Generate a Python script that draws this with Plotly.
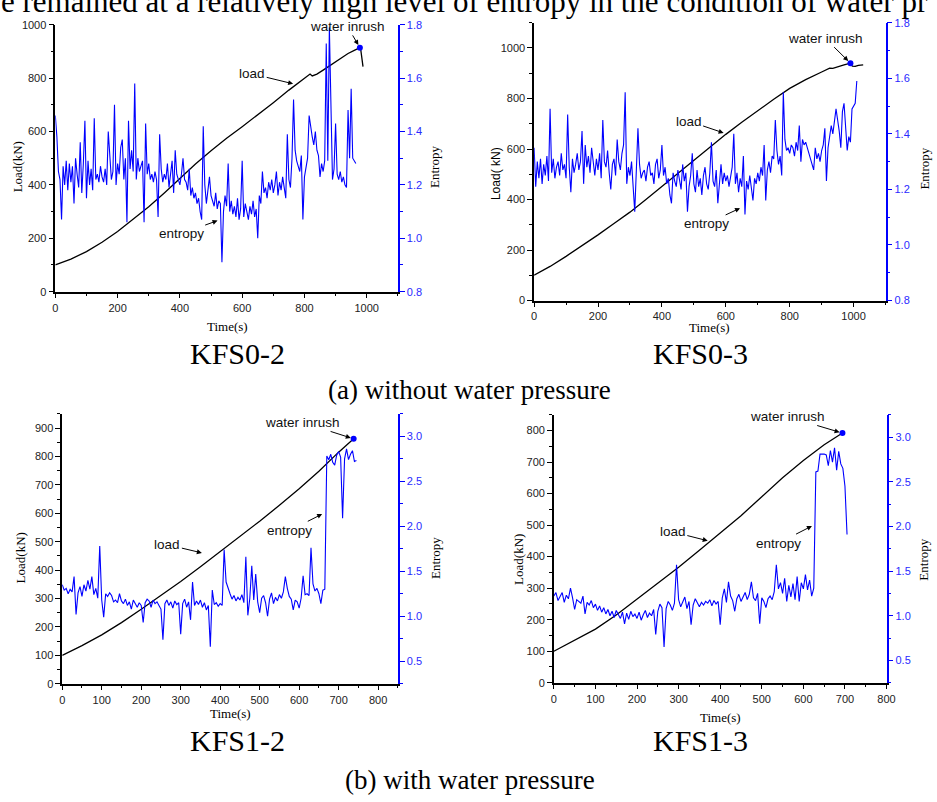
import plotly.graph_objects as go

W, H = 937, 802

# ---------------- data ----------------
# KFS0-2 (without water pressure)
kfs02_entropy_t0, kfs02_entropy_dt = 0, 5
kfs02_entropy = [
    1.46, 1.38, 1.25, 1.22, 1.07, 1.27, 1.20, 1.29, 1.18, 1.28,
    1.21, 1.27, 1.13, 1.30, 1.24, 1.19, 1.36, 1.17, 1.28, 1.44,
    1.15, 1.29, 1.20, 1.26, 1.18, 1.45, 1.22, 1.24, 1.21, 1.27,
    1.23, 1.21, 1.26, 1.20, 1.40, 1.29, 1.22, 1.25, 1.50, 1.20,
    1.28, 1.24, 1.34, 1.37, 1.22, 1.30, 1.06, 1.44, 1.26, 1.33,
    1.25, 1.58, 1.22, 1.30, 1.25, 1.27, 1.29, 1.06, 1.43, 1.24,
    1.28, 1.22, 1.24, 1.21, 1.25, 1.22, 1.08, 1.39, 1.26, 1.21,
    1.24, 1.22, 1.28, 1.19, 1.25, 1.29, 1.17, 1.33, 1.24, 1.22,
    1.20, 1.24, 1.30, 1.22, 1.21, 1.18, 1.26, 1.16, 1.19, 1.15,
    1.17, 1.13, 1.15, 1.10, 1.07, 1.42, 1.20, 1.13, 1.18, 1.23,
    1.16, 1.14, 1.12, 1.17, 1.11, 1.14, 1.13, 0.91, 1.10, 1.16,
    1.12, 1.28, 1.10, 1.14, 1.09, 1.12, 1.08, 1.15, 1.07, 1.11,
    1.29, 1.08, 1.13, 1.10, 1.07, 1.12, 1.09, 1.14, 1.08, 1.11,
    1.00, 1.16, 1.13, 1.25, 1.17, 1.19, 1.15, 1.21, 1.18, 1.22,
    1.17, 1.20, 1.25, 1.16, 1.21, 1.18, 1.23, 1.19, 1.15, 1.39,
    1.22, 1.19, 1.30, 1.52, 1.33, 1.29, 1.27, 1.25, 1.31, 1.07,
    1.23, 1.26, 1.30, 1.46, 1.41, 1.38, 1.35, 1.40, 1.33, 1.31,
    1.23, 1.28, 1.25, 1.29, 1.73, 1.29, 1.79, 1.45, 1.22, 1.26,
    1.43, 1.24, 1.22, 1.25, 1.21, 1.23, 1.20, 1.19, 1.48, 1.30,
    1.56, 1.30, 1.29, 1.28,
]
kfs02_load_t = [0, 50, 100, 150, 200, 250, 300, 350, 400, 450, 500, 550, 600, 650,
                700, 750, 775, 800, 812, 818, 825, 840, 860, 880, 900, 920, 940, 960,
                978, 981, 984, 988]
kfs02_load = [100, 122, 150, 185, 225, 270, 318, 370, 425, 478, 528, 575, 618, 662,
              708, 755, 778, 800, 812, 815, 808, 815, 830, 845, 862, 878, 892, 904,
              914, 905, 870, 843]
kfs02_inrush = (978, 914)

# KFS0-3 (without water pressure)
kfs03_entropy_t0, kfs03_entropy_dt = 0, 5
kfs03_entropy = [
    1.35, 1.21, 1.30, 1.24, 1.31, 1.22, 1.29, 1.25, 1.32, 1.23,
    1.49, 1.26, 1.31, 1.24, 1.28, 1.30, 1.25, 1.33, 1.27, 1.29,
    1.24, 1.47, 1.28, 1.19, 1.31, 1.26, 1.29, 1.33, 1.27, 1.30,
    1.41, 1.22, 1.36, 1.28, 1.32, 1.26, 1.35, 1.29, 1.25, 1.31,
    1.27, 1.33, 1.24, 1.45, 1.30, 1.28, 1.34, 1.26, 1.20, 1.29,
    1.31, 1.25, 1.38, 1.30, 1.27, 1.33, 1.36, 1.55, 1.22, 1.28,
    1.25, 1.30, 1.21, 1.12, 1.27, 1.42, 1.29, 1.24, 1.26, 1.27,
    1.23, 1.28, 1.30, 1.25, 1.26, 1.22, 1.29, 1.31, 1.24, 1.27,
    1.36, 1.25, 1.28, 1.22, 1.24, 1.18, 1.15, 1.26, 1.23, 1.21,
    1.27, 1.24, 1.20, 1.29, 1.23, 1.26, 1.12, 1.21, 1.25, 1.33,
    1.22, 1.19, 1.27, 1.21, 1.24, 1.18, 1.25, 1.28, 1.22, 1.20,
    1.26, 1.37, 1.23, 1.21, 1.27, 1.15, 1.24, 1.29, 1.22, 1.26,
    1.23, 1.25, 1.21, 1.24, 1.28, 1.40, 1.22, 1.26, 1.19, 1.24,
    1.21, 1.32, 1.11, 1.23, 1.20, 1.25, 1.21, 1.16, 1.24, 1.22,
    1.26, 1.23, 1.28, 1.25, 1.36, 1.16, 1.27, 1.30, 1.26, 1.32,
    1.31, 1.45, 1.34, 1.29, 1.32, 1.25, 1.55, 1.38, 1.34, 1.35,
    1.33, 1.36, 1.35, 1.32, 1.37, 1.34, 1.43, 1.30, 1.38, 1.36,
    1.37, 1.35, 1.33, 1.31, 1.29, 1.27, 1.35, 1.31, 1.33, 1.30,
    1.34, 1.36, 1.42, 1.23, 1.35, 1.39, 1.43, 1.40, 1.44, 1.49,
    1.45, 1.41, 1.35, 1.48, 1.51, 1.40, 1.34, 1.39, 1.37, 1.49,
    1.50, 1.51, 1.59,
]
kfs03_load_t = [0, 50, 100, 150, 200, 250, 300, 350, 400, 450, 500, 550, 600, 650,
                700, 750, 800, 850, 900, 925, 935, 950, 970, 990, 996, 1005, 1015, 1030]
kfs03_load = [100, 135, 175, 217, 260, 305, 350, 400, 452, 504, 555, 607, 658, 706,
              752, 797, 840, 875, 905, 920, 919, 926, 933, 940, 928, 927, 931, 933]
kfs03_inrush = (990, 940)

# KFS1-2 (with water pressure)
kfs12_entropy_t0, kfs12_entropy_dt = 0, 5
kfs12_entropy = [
    1.35, 1.29, 1.31, 1.25, 1.30, 1.27, 1.44, 1.02, 1.26, 1.33,
    1.22, 1.35, 1.28, 1.40, 1.30, 1.44, 1.24, 1.31, 1.20, 1.78,
    1.18, 0.99, 1.25, 1.22, 1.26, 1.23, 1.16, 1.18, 1.15, 1.25,
    1.17, 1.14, 1.19, 1.12, 1.16, 1.08, 1.18, 1.13, 1.10, 1.15,
    1.12, 0.93, 1.15, 1.19, 1.17, 1.10, 1.18, 1.14, 1.16, 1.12,
    1.08, 0.74, 1.14, 1.18, 1.12, 1.16, 1.09, 1.17, 1.13, 1.15,
    0.80, 1.14, 1.19, 1.10, 1.16, 0.96, 1.38, 1.12, 1.17, 1.13,
    1.18, 1.10, 1.15, 1.07, 1.12, 0.66, 1.29, 1.13, 1.15, 1.11,
    1.14, 1.12, 1.74, 1.38, 1.30, 1.25, 1.19, 1.23, 1.17, 1.21,
    1.18, 1.24, 1.15, 1.66, 1.01, 1.20, 1.56, 1.18, 1.47, 1.16,
    1.04, 1.20, 1.23, 1.15, 1.00, 1.19, 1.26, 1.14, 1.21, 1.17,
    1.24, 1.20, 1.27, 1.44, 1.31, 1.22, 1.19, 1.07, 1.18, 1.16,
    1.09, 1.20, 1.45, 1.24, 1.25, 1.23, 1.76, 1.36, 1.28, 1.31,
    1.25, 1.14, 1.29, 1.30, 2.78, 2.74, 2.80, 2.71, 2.68, 2.79,
    2.83, 2.77, 2.09, 2.75, 2.86, 2.74, 2.80, 2.84, 2.72, 2.73,
]
kfs12_load_t = [0, 50, 100, 150, 200, 250, 300, 350, 400, 450, 500, 550, 600, 650, 700, 738]
kfs12_load = [100, 134, 172, 215, 262, 310, 360, 412, 465, 518, 572, 628, 686, 748, 815, 862]
kfs12_inrush = (738, 862)

# KFS1-3 (with water pressure)
kfs13_entropy_t0, kfs13_entropy_dt = 0, 5
kfs13_entropy = [
    1.22, 1.26, 1.17, 1.21, 1.26, 1.15, 1.23, 1.19, 1.31, 1.20,
    1.07, 1.18, 1.16, 1.14, 1.22, 1.02, 1.15, 1.12, 1.17, 1.09,
    1.13, 1.06, 1.11, 1.04, 1.09, 1.02, 1.07, 1.00, 1.05, 0.98,
    1.06, 1.01, 0.97, 1.04, 0.91, 1.03, 0.96, 1.05, 0.99, 1.02,
    0.97, 1.04, 0.95, 1.01, 1.06, 0.98, 1.03, 1.00, 1.07, 0.79,
    1.05, 1.13, 1.09, 0.65, 1.08, 1.16, 1.12, 1.06, 1.14, 1.57,
    1.18, 1.10, 1.15, 1.21, 1.08, 1.16, 0.90, 1.12, 1.19, 1.14,
    1.10, 1.15, 1.12, 1.16, 1.14, 1.18, 1.11, 1.17, 1.13, 1.16,
    0.90, 1.20, 1.30, 1.15, 1.38, 1.22, 1.17, 1.05, 1.19, 1.24,
    1.16, 1.21, 1.26, 1.18, 1.24, 1.38, 1.20, 1.17, 1.25, 0.91,
    1.20, 1.16, 1.09, 1.19, 1.22, 1.18, 1.27, 1.57, 1.30, 1.37,
    1.25, 1.42, 1.16, 1.34, 1.21, 1.36, 1.18, 1.44, 1.16, 1.37,
    1.30, 1.46, 1.29, 1.40, 1.22, 1.31, 2.61, 2.62, 2.81, 2.81,
    2.81, 2.80, 2.68, 2.85, 2.72, 2.88, 2.63, 2.84, 2.70, 2.65,
    2.45, 1.91,
]
kfs13_load_t = [0, 50, 100, 150, 200, 250, 300, 350, 400, 450, 500, 550, 600, 650, 694]
kfs13_load = [100, 134, 170, 215, 265, 315, 366, 420, 474, 530, 590, 650, 705, 755, 792]
kfs13_inrush = (694, 792)

panel_names = ["KFS0-2", "KFS0-3", "KFS1-2", "KFS1-3"]
group_captions = ["(a) without water pressure", "(b) with water pressure"]
top_text = "e remained at a relatively high level of entropy in the condition of water pr"

# ---------------- helpers ----------------
def px(x):
    return x / W

def py(y):
    return 1 - y / H

def times(t0, dt, vals):
    return [t0 + dt * i for i in range(len(vals))]

BLUE = "#0000ff"
BLUE_TXT = "#2a2aff"
SANS = "Liberation Sans, Arial, sans-serif"
SERIF = "Liberation Serif, Times New Roman, serif"

panels = [
    dict(entropy=kfs02_entropy, et0=kfs02_entropy_t0, edt=kfs02_entropy_dt,
         lt=kfs02_load_t, lv=kfs02_load, inrush=kfs02_inrush,
         xd=(53, 400), yd=(19, 290), xr=(0, 1100), xdt=200, yr=(0, 1000), ydt=200,
         y2r=(0.8, 1.8), y2dt=0.2),
    dict(entropy=kfs03_entropy, et0=kfs03_entropy_t0, edt=kfs03_entropy_dt,
         lt=kfs03_load_t, lv=kfs03_load, inrush=kfs03_inrush,
         xd=(538, 894), yd=(17, 299), xr=(0, 1100), xdt=200, yr=(0, 1100), ydt=200,
         y2r=(0.8, 1.8), y2dt=0.2),
    dict(entropy=kfs12_entropy, et0=kfs12_entropy_t0, edt=kfs12_entropy_dt,
         lt=kfs12_load_t, lv=kfs12_load, inrush=kfs12_inrush,
         xd=(60, 400), yd=(414, 688), xr=(0, 850), xdt=100, yr=(0, 950), ydt=100,
         y2r=(0.25, 3.25), y2dt=0.5),
    dict(entropy=kfs13_entropy, et0=kfs13_entropy_t0, edt=kfs13_entropy_dt,
         lt=kfs13_load_t, lv=kfs13_load, inrush=kfs13_inrush,
         xd=(558, 895), yd=(415, 687), xr=(0, 800), xdt=100, yr=(0, 850), ydt=100,
         y2r=(0.25, 3.25), y2dt=0.5),
]

fig = go.Figure()
layout = {}

for i, p in enumerate(panels):
    n = i + 1
    xa = "x" if n == 1 else f"x{n}"
    ya_l_idx = 2 * i + 1
    ya_r_idx = 2 * i + 2
    ya_l = "y" if ya_l_idx == 1 else f"y{ya_l_idx}"
    ya_r = f"y{ya_r_idx}"

    fig.add_trace(go.Scatter(x=p["lt"], y=p["lv"], mode="lines",
                             line=dict(color="black", width=1.3),
                             xaxis=xa, yaxis=ya_l, showlegend=False, hoverinfo="skip"))
    fig.add_trace(go.Scatter(x=[p["inrush"][0]], y=[p["inrush"][1]], mode="markers",
                             marker=dict(color=BLUE, size=6),
                             xaxis=xa, yaxis=ya_l, showlegend=False, hoverinfo="skip"))
    fig.add_trace(go.Scatter(x=times(p["et0"], p["edt"], p["entropy"]), y=p["entropy"],
                             mode="lines", line=dict(color=BLUE, width=1.1),
                             xaxis=xa, yaxis=ya_r, showlegend=False, hoverinfo="skip"))

    xkey = "xaxis" if n == 1 else f"xaxis{n}"
    ylkey = "yaxis" if ya_l_idx == 1 else f"yaxis{ya_l_idx}"
    yrkey = f"yaxis{ya_r_idx}"

    layout[xkey] = dict(
        domain=[px(p["xd"][0]), px(p["xd"][1])], anchor=ya_l, range=list(p["xr"]),
        dtick=p["xdt"], tick0=0, showline=True, linecolor="black", linewidth=1.5,
        ticks="outside", ticklen=5, tickwidth=1.2, tickcolor="black",
        minor=dict(ticks="outside", ticklen=3, dtick=p["xdt"] / 2, tickcolor="black"),
        showgrid=False, zeroline=False,
        tickfont=dict(family=SANS, size=11, color="#222"),
    )
    layout[ylkey] = dict(
        domain=[py(p["yd"][1]), py(p["yd"][0])], anchor=xa, range=list(p["yr"]),
        dtick=p["ydt"], tick0=0, showline=True, linecolor="black", linewidth=1.5,
        ticks="outside", ticklen=5, tickwidth=1.2, tickcolor="black",
        minor=dict(ticks="outside", ticklen=3, dtick=p["ydt"] / 2, tickcolor="black"),
        showgrid=False, zeroline=False,
        tickfont=dict(family=SANS, size=11, color="#222"),
    )
    layout[yrkey] = dict(
        overlaying=ya_l, side="right", anchor=xa, range=list(p["y2r"]),
        dtick=p["y2dt"], tick0=0, showline=True, linecolor=BLUE, linewidth=1.5,
        ticks="outside", ticklen=5, tickwidth=1.2, tickcolor=BLUE,
        minor=dict(ticks="outside", ticklen=3, dtick=p["y2dt"] / 2, tickcolor=BLUE),
        showgrid=False, zeroline=False, tickformat=".1f",
        tickfont=dict(family=SANS, size=11, color=BLUE_TXT),
    )

annotations = []

def txt(x, y, s, size, family=SERIF, angle=0, color="black"):
    annotations.append(dict(x=px(x), y=py(y), xref="paper", yref="paper", text=s,
                            showarrow=False, textangle=angle,
                            font=dict(family=family, size=size, color=color),
                            xanchor="center", yanchor="middle"))

# axis titles
txt(227, 325, "Time(s)", 13)
txt(15, 163, "Load(kN)", 13, angle=-90)
txt(437, 163, "Entropy", 13, angle=-90)
txt(716, 326, "Time(s)", 13)
txt(500, 170, "Load( kN)", 12, family=SANS, angle=-90)
txt(933, 165, "Entropy", 13, angle=-90)
txt(230, 718, "Time(s)", 13)
txt(18, 560, "Load(kN)", 13, angle=-90)
txt(438, 560, "Entropy", 13, angle=-90)
txt(727, 722, "Time(s)", 13)
txt(522, 562, "Load(kN)", 13, angle=-90)
txt(933, 562, "Entropy", 13, angle=-90)

# panel names and captions
txt(238, 353, panel_names[0], 30)
txt(707, 353, panel_names[1], 30)
txt(473, 390, group_captions[0], 27)
txt(238, 746, panel_names[2], 30)
txt(707, 746, panel_names[3], 30)
txt(473, 786, group_captions[1], 27)

# clipped text line at the top of the page
annotations.append(dict(x=0, y=py(-5), xref="paper", yref="paper", text=top_text,
                        showarrow=False, xanchor="left", yanchor="middle", xshift=-4,
                        font=dict(family=SERIF, size=31, color="black")))

# arrows: (panel index, text, head x, head y, axis side, text centre px)
arrow_specs = [
    (0, "water inrush", kfs02_inrush[0], kfs02_inrush[1], "l", (349, 21)),
    (0, "load", 773, 776, "l", (253, 69)),
    (0, "entropy", 530, 1.07, "r", (181, 231)),
    (1, "water inrush", kfs03_inrush[0], kfs03_inrush[1], "l", (833, 33)),
    (1, "load", 602, 660, "l", (695, 117)),
    (1, "entropy", 653, 1.137, "r", (713, 221)),
    (2, "water inrush", kfs12_inrush[0], kfs12_inrush[1], "l", (304, 423)),
    (2, "load", 361, 458, "l", (167, 547)),
    (2, "entropy", 665, 2.15, "r", (291, 532)),
    (3, "water inrush", kfs13_inrush[0], kfs13_inrush[1], "l", (795, 417)),
    (3, "load", 377, 448, "l", (679, 534)),
    (3, "entropy", 627, 2.02, "r", (786, 545)),
]

for (i, s, hx, hy, side, (tx, ty)) in arrow_specs:
    p = panels[i]
    xa = "x" if i == 0 else f"x{i + 1}"
    if side == "l":
        ya = "y" if i == 0 else f"y{2 * i + 1}"
        y0, y1 = p["yr"]
    else:
        ya = f"y{2 * i + 2}"
        y0, y1 = p["y2r"]
    x0, x1 = p["xr"]
    hpx = p["xd"][0] + (hx - x0) / (x1 - x0) * (p["xd"][1] - p["xd"][0])
    hpy = p["yd"][1] - (hy - y0) / (y1 - y0) * (p["yd"][1] - p["yd"][0])
    annotations.append(dict(x=hx, y=hy, xref=xa, yref=ya, text=s, showarrow=True,
                            ax=tx - hpx, ay=ty - hpy, arrowhead=2, arrowsize=1,
                            arrowwidth=1, arrowcolor="black", standoff=3,
                            font=dict(family=SANS, size=13.5, color="#111")))

fig.update_layout(
    width=W, height=H, margin=dict(l=0, r=0, t=0, b=0),
    paper_bgcolor="white", plot_bgcolor="white",
    annotations=annotations, showlegend=False,
    **layout,
)

fig.write_html("out.html", config={"displayModeBar": False},
               post_script="document.body.style.margin='0';document.body.style.overflow='hidden';")
